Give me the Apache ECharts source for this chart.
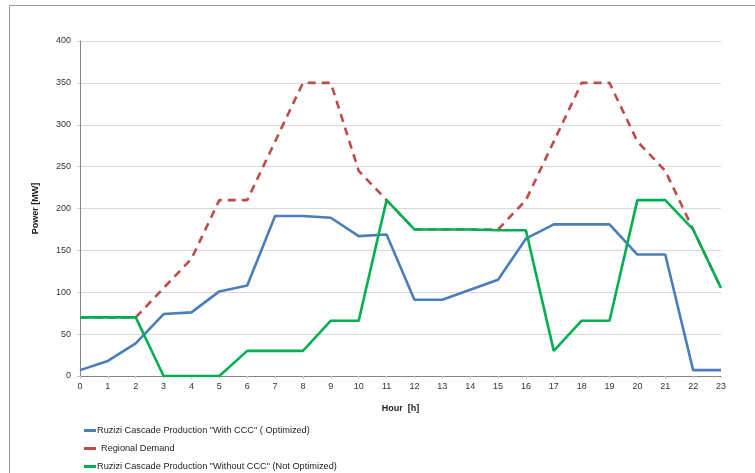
<!DOCTYPE html>
<html>
<head>
<meta charset="utf-8">
<script src="https://cdn.jsdelivr.net/npm/echarts@6/dist/echarts.min.js"></script>
<style>
  html, body { margin: 0; padding: 0; background: #ffffff; }
  #chart { width: 755px; height: 473px; }
</style>
</head>
<body>
<div id="chart"></div>
<script>
// Hours of the day (x axis categories)
const hours = ['0','1','2','3','4','5','6','7','8','9','10','11','12','13','14','15','16','17','18','19','20','21','22','23'];

// Power in MW for each hour
const withCCC = [7, 18, 39, 74, 76, 101, 108, 191, 191, 189, 167, 169, 91, 91, 103, 115, 164, 181, 181, 181, 145, 145, 7, 7];
const regionalDemand = [70, 70, 70, 105, 140, 210, 210, 280, 350, 350, 245, 210, 175, 175, 175, 175, 210, 280, 350, 350, 280, 245, 175, 105];
const withoutCCC = [70, 70, 70, 0, 0, 0, 30, 30, 30, 66, 66, 210, 175, 175, 175, 174, 174, 30, 66, 66, 210, 210, 175, 105];

const seriesNames = [
  'Ruzizi Cascade Production "With CCC" ( Optimized)',
  'Regional Demand',
  'Ruzizi Cascade Production "Without CCC" (Not Optimized)'
];

const FONT = '"Liberation Sans", Arial, sans-serif';

const chart = echarts.init(document.getElementById('chart'), null, { renderer: 'canvas' });

chart.setOption({
  animation: false,
  backgroundColor: '#ffffff',
  grid: { left: 80, right: 34, top: 41, bottom: 97, containLabel: false },
  graphic: [{
    type: 'rect',
    shape: { x: 9.5, y: 5.5, width: 900, height: 600 },
    style: { fill: 'none', stroke: '#9a9a9a', lineWidth: 1 },
    silent: true
  }],
  legend: {
    orient: 'vertical',
    left: 84,
    top: 426,
    padding: 0,
    itemGap: 9,
    itemWidth: 12,
    itemHeight: 3,
    icon: 'rect',
    textStyle: { fontFamily: FONT, fontSize: 9.2, color: '#222222', padding: [0, 0, 0, -4] },
    data: [
      { name: seriesNames[0] },
      { name: seriesNames[1], textStyle: { padding: [0, 0, 0, 0] } },
      { name: seriesNames[2] }
    ]
  },
  xAxis: {
    type: 'category',
    data: hours,
    boundaryGap: false,
    name: 'Hour  [h]',
    nameLocation: 'middle',
    nameGap: 28,
    nameTextStyle: { fontFamily: FONT, fontSize: 9, fontWeight: 'bold', color: '#222222' },
    axisLine: { lineStyle: { color: '#868686', width: 1 } },
    axisTick: { show: true, length: 3, alignWithLabel: true, lineStyle: { color: '#d0d0d0' } },
    axisLabel: { fontFamily: FONT, fontSize: 9, color: '#333333', margin: 6 },
    splitLine: { show: false }
  },
  yAxis: {
    type: 'value',
    min: 0,
    max: 400,
    interval: 50,
    name: 'Power [MW]',
    nameLocation: 'middle',
    nameGap: 40,
    nameTextStyle: { fontFamily: FONT, fontSize: 9, fontWeight: 'bold', color: '#222222' },
    axisLine: { show: true, lineStyle: { color: '#868686', width: 1 } },
    axisTick: { show: true, length: 3, lineStyle: { color: '#d0d0d0' } },
    axisLabel: { fontFamily: FONT, fontSize: 9, color: '#333333', margin: 9 },
    splitLine: { show: true, lineStyle: { color: '#d9d9d9', width: 1 } }
  },
  series: [
    {
      name: seriesNames[0],
      type: 'line',
      data: withCCC,
      symbol: 'none',
      itemStyle: { color: '#4a7ebb' },
      lineStyle: { color: '#4a7ebb', width: 2.6 },
      z: 2
    },
    {
      name: seriesNames[1],
      type: 'line',
      data: regionalDemand,
      symbol: 'none',
      itemStyle: { color: '#be4b48' },
      lineStyle: { color: '#be4b48', width: 2.6, type: [8, 6] },
      z: 3
    },
    {
      name: seriesNames[2],
      type: 'line',
      data: withoutCCC,
      symbol: 'none',
      itemStyle: { color: '#00b050' },
      lineStyle: { color: '#00b050', width: 2.6 },
      z: 4
    }
  ]
});
</script>
</body>
</html>
